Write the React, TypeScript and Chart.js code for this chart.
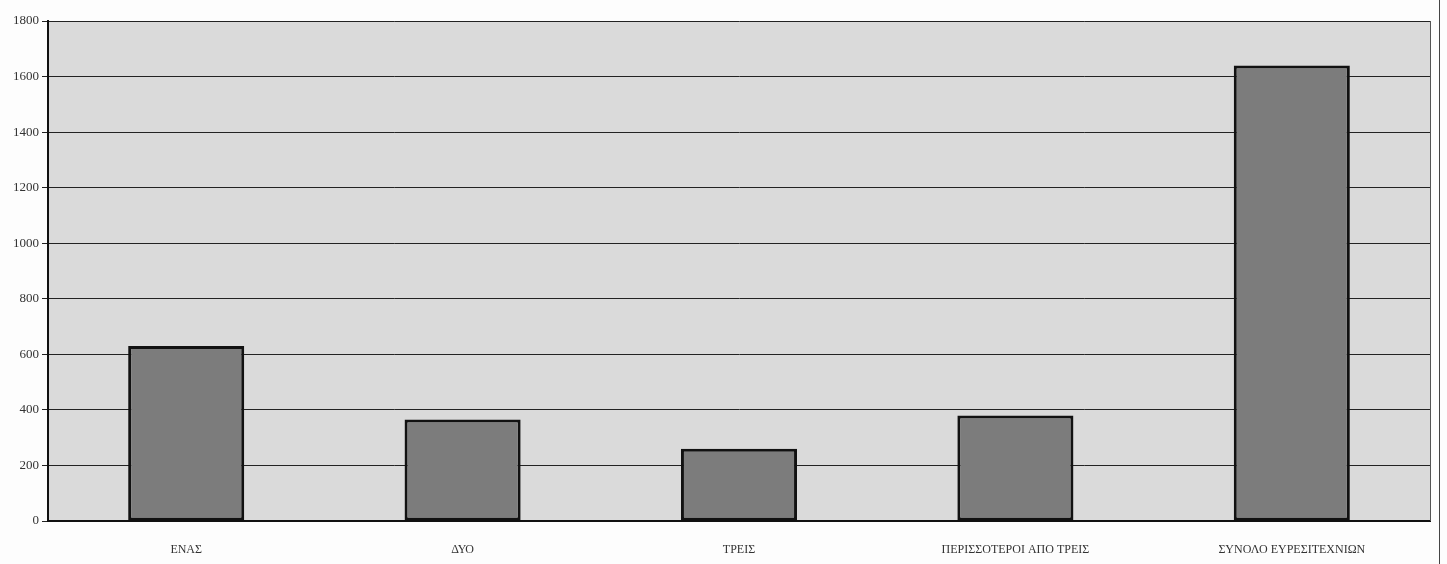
import { useEffect, useRef } from 'react'
import { Chart, registerables } from 'chart.js'

Chart.register(...registerables)

const CATEGORIES = ['ΕΝΑΣ', 'ΔΥΟ', 'ΤΡΕΙΣ', 'ΠΕΡΙΣΣΟΤΕΡΟΙ ΑΠΟ ΤΡΕΙΣ', 'ΣΥΝΟΛΟ ΕΥΡΕΣΙΤΕΧΝΙΩΝ']
const VALUES = [630, 365, 260, 380, 1640]
const Y_MIN = 0
const Y_MAX = 1800
const Y_STEP = 200

const FONT = "'Liberation Serif', 'DejaVu Serif', serif"

// grey plot background + thin right edge, like the scanned original
const plotBackground = {
  id: 'plotBackground',
  beforeDraw(chart: any) {
    const { ctx, chartArea: a } = chart
    ctx.save()
    ctx.fillStyle = '#dadada'
    ctx.fillRect(a.left, a.top, a.right - a.left, a.bottom - a.top)
    ctx.restore()
  },
  afterDraw(chart: any) {
    const { ctx, chartArea: a } = chart
    ctx.save()
    ctx.strokeStyle = '#555'
    ctx.lineWidth = 1
    ctx.beginPath()
    ctx.moveTo(a.right + 0.5, a.top)
    ctx.lineTo(a.right + 0.5, a.bottom)
    ctx.stroke()
    ctx.restore()
  },
}

function BarChart() {
  const ref = useRef<HTMLCanvasElement>(null)
  useEffect(() => {
    document.body.style.margin = '0'
    if (!ref.current) return
    const chart = new Chart(ref.current, {
      type: 'bar',
      data: {
        labels: CATEGORIES,
        datasets: [{
          data: VALUES,
          backgroundColor: '#7c7c7c',
          borderColor: '#111',
          borderWidth: 3,
          borderSkipped: false,
          categoryPercentage: 1,
          barPercentage: 0.42,
        }],
      },
      options: {
        responsive: false,
        animation: false,
        layout: { padding: { top: 21, right: 17, left: 0, bottom: 0 } },
        plugins: { legend: { display: false }, tooltip: { enabled: false } },
        scales: {
          x: {
            grid: { display: false },
            border: { display: true, color: '#111', width: 2 },
            ticks: { color: '#333', font: { family: FONT, size: 12 }, padding: 14, maxRotation: 0 },
            afterFit: (s: any) => { s.height = 43 },
          },
          y: {
            min: Y_MIN,
            max: Y_MAX,
            grid: { color: '#222', lineWidth: 1, tickLength: 6, drawTicks: true },
            border: { display: true, color: '#111', width: 2 },
            ticks: {
              stepSize: Y_STEP,
              color: '#333',
              font: { family: FONT, size: 13 },
              padding: 3,
              callback: (v: any) => String(v),
            },
            afterFit: (s: any) => { s.width = 48 },
          },
        },
      },
      plugins: [plotBackground],
    })
    return () => chart.destroy()
  }, [])
  return <canvas ref={ref} width={1447} height={564} style={{ display: 'block' }} />
}

export default function App() {
  return (
    <div style={{ position: 'relative', width: 1447, height: 564, background: '#fdfdfd' }}>
      <BarChart />
      <div style={{ position: 'absolute', left: 1439, top: 0, width: 1, height: 564, background: '#444' }} />
    </div>
  )
}
